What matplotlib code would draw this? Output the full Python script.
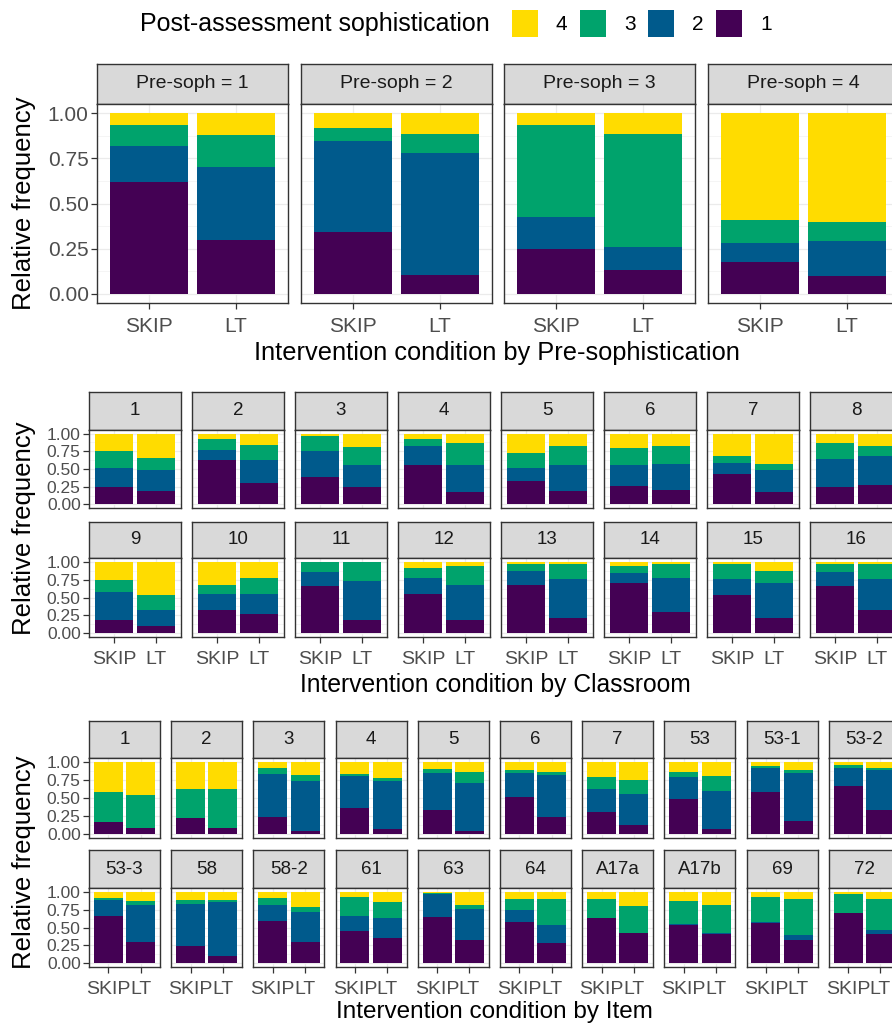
import numpy as np
import matplotlib
matplotlib.use("Agg")
import matplotlib.pyplot as plt

plt.rcParams['font.family'] = ['Liberation Sans', 'DejaVu Sans']

# Colours for post-assessment sophistication levels 1..4 (viridis-like, as in the picture)
level_colors = ['#440154', '#005a8c', '#00a36c', '#ffdc00']
level_names = ['1', '2', '3', '4']
conditions = ['SKIP', 'LT']

# Section 1: by pre-sophistication, proportions of levels 1..4
presoph_labels = ['Pre-soph = 1', 'Pre-soph = 2', 'Pre-soph = 3', 'Pre-soph = 4']
presoph_skip = [[0.62, 0.20, 0.115, 0.065],
                [0.34, 0.505, 0.07, 0.085],
                [0.25, 0.175, 0.51, 0.065],
                [0.175, 0.105, 0.13, 0.59]]
presoph_lt = [[0.30, 0.40, 0.177, 0.123],
              [0.107, 0.67, 0.109, 0.114],
              [0.13, 0.13, 0.626, 0.114],
              [0.10, 0.195, 0.101, 0.604]]

# Section 2: by classroom
class_labels = [str(i) for i in range(1, 17)]
class_skip = [[0.24, 0.27, 0.25, 0.24], [0.62, 0.15, 0.15, 0.08],
              [0.39, 0.36, 0.22, 0.03], [0.55, 0.27, 0.11, 0.07],
              [0.335, 0.175, 0.22, 0.27], [0.26, 0.29, 0.24, 0.21],
              [0.43, 0.16, 0.09, 0.32], [0.24, 0.40, 0.22, 0.14],
              [0.18, 0.39, 0.18, 0.25], [0.32, 0.23, 0.13, 0.32],
              [0.665, 0.185, 0.14, 0.01], [0.55, 0.22, 0.145, 0.085],
              [0.68, 0.19, 0.09, 0.04], [0.70, 0.14, 0.10, 0.06],
              [0.54, 0.22, 0.20, 0.04], [0.665, 0.185, 0.11, 0.04]]
class_lt = [[0.195, 0.285, 0.17, 0.35], [0.30, 0.32, 0.22, 0.16],
            [0.24, 0.31, 0.26, 0.19], [0.17, 0.38, 0.31, 0.14],
            [0.19, 0.36, 0.27, 0.18], [0.20, 0.37, 0.25, 0.18],
            [0.17, 0.32, 0.08, 0.43], [0.28, 0.40, 0.14, 0.18],
            [0.11, 0.21, 0.22, 0.46], [0.27, 0.28, 0.22, 0.23],
            [0.18, 0.55, 0.265, 0.005], [0.18, 0.50, 0.26, 0.06],
            [0.22, 0.54, 0.20, 0.04], [0.30, 0.47, 0.19, 0.04],
            [0.22, 0.48, 0.17, 0.13], [0.32, 0.44, 0.20, 0.04]]

# Section 3: by item
item_labels = ['1', '2', '3', '4', '5', '6', '7', '53', '53-1', '53-2',
               '53-3', '58', '58-2', '61', '63', '64', 'A17a', 'A17b', '69', '72']
item_skip = [[0.165, 0.0, 0.415, 0.42], [0.22, 0.0, 0.40, 0.38],
             [0.235, 0.595, 0.085, 0.085], [0.365, 0.435, 0.03, 0.17],
             [0.34, 0.505, 0.055, 0.10], [0.51, 0.335, 0.035, 0.12],
             [0.305, 0.32, 0.16, 0.215], [0.49, 0.295, 0.07, 0.145],
             [0.58, 0.33, 0.03, 0.06], [0.67, 0.245, 0.035, 0.05],
             [0.66, 0.22, 0.03, 0.09], [0.24, 0.59, 0.05, 0.12],
             [0.595, 0.225, 0.09, 0.09], [0.445, 0.22, 0.255, 0.08],
             [0.64, 0.33, 0.01, 0.02], [0.57, 0.18, 0.15, 0.10],
             [0.63, 0.0, 0.26, 0.11], [0.54, 0.01, 0.32, 0.13],
             [0.56, 0.01, 0.36, 0.07], [0.70, 0.0, 0.27, 0.03]]
item_lt = [[0.085, 0.0, 0.455, 0.46], [0.085, 0.0, 0.535, 0.38],
           [0.04, 0.70, 0.08, 0.18], [0.075, 0.665, 0.035, 0.225],
           [0.05, 0.66, 0.145, 0.145], [0.245, 0.575, 0.04, 0.14],
           [0.13, 0.43, 0.19, 0.25], [0.075, 0.515, 0.21, 0.20],
           [0.18, 0.66, 0.04, 0.12], [0.34, 0.54, 0.03, 0.09],
           [0.30, 0.52, 0.05, 0.13], [0.11, 0.745, 0.03, 0.115],
           [0.30, 0.42, 0.07, 0.21], [0.355, 0.275, 0.225, 0.145],
           [0.32, 0.435, 0.055, 0.19], [0.29, 0.25, 0.35, 0.11],
           [0.43, 0.0, 0.37, 0.20], [0.41, 0.02, 0.39, 0.18],
           [0.32, 0.07, 0.51, 0.10], [0.41, 0.05, 0.44, 0.10]]

W, H = 892, 1025
fig = plt.figure(figsize=(W / 100, H / 100), dpi=100)
fig.patch.set_facecolor('white')


def box(x0, y0, x1, y1):
    # pixel box (top-left origin) -> figure fraction
    return [x0 / W, 1 - y1 / H, (x1 - x0) / W, (y1 - y0) / H]


def draw_facet(x0, w, sy0, sy1, py1, label, skip, lt, show_y, show_x,
               strip_fs, ytick_fs, xtick_fs):
    # strip on top
    ax_s = fig.add_axes(box(x0, sy0, x0 + w, sy1))
    ax_s.set_facecolor('#D9D9D9')
    ax_s.set_xticks([])
    ax_s.set_yticks([])
    for sp in ax_s.spines.values():
        sp.set_color('#333333')
        sp.set_linewidth(1.0)
    ax_s.text(0.5, 0.5, label, ha='center', va='center', fontsize=strip_fs,
              color='#1A1A1A', transform=ax_s.transAxes)

    ax = fig.add_axes(box(x0, sy1, x0 + w, py1))
    ax.set_facecolor('white')
    bottoms = np.zeros(2)
    for k in range(4):
        vals = np.array([skip[k], lt[k]])
        ax.bar([1, 2], vals, bottom=bottoms, width=0.9, color=level_colors[k],
               linewidth=0, zorder=2)
        bottoms += vals
    ax.set_xlim(0.4, 2.6)
    ax.set_ylim(-0.05, 1.05)
    ax.set_yticks([0, 0.25, 0.5, 0.75, 1.0])
    ax.set_yticks([0.125, 0.375, 0.625, 0.875], minor=True)
    ax.set_xticks([1, 2])
    ax.grid(True, which='major', color='#EBEBEB', linewidth=0.9, zorder=0)
    ax.grid(True, which='minor', axis='y', color='#F2F2F2', linewidth=0.5, zorder=0)
    ax.set_axisbelow(True)
    for sp in ax.spines.values():
        sp.set_color('#333333')
        sp.set_linewidth(1.0)
    ax.tick_params(which='minor', length=0)
    ax.tick_params(axis='both', which='major', length=4, width=0.9, color='#333333',
                   labelcolor='#4D4D4D', pad=2)
    if show_y:
        ax.set_yticklabels(['0.00', '0.25', '0.50', '0.75', '1.00'], fontsize=ytick_fs)
    else:
        ax.tick_params(axis='y', length=0, labelleft=False)
    if show_x:
        ax.set_xticklabels(conditions, fontsize=xtick_fs)
        ax.tick_params(axis='x', pad=6)
    else:
        ax.tick_params(axis='x', length=0, labelbottom=False)
    return ax


# ---- legend at top
fig.text(140 / W, 1 - 24 / H, 'Post-assessment sophistication', ha='left', va='center',
         fontsize=18, color='black')
key_x = [512, 580, 648, 716]
for k, lev in enumerate([3, 2, 1, 0]):
    kax = fig.add_axes(box(key_x[k], 10, key_x[k] + 26, 37))
    kax.set_facecolor(level_colors[lev])
    kax.set_xticks([])
    kax.set_yticks([])
    for sp in kax.spines.values():
        sp.set_visible(False)
    fig.text((key_x[k] + 44) / W, 1 - 24 / H, level_names[lev], ha='left',
             va='center', fontsize=15, color='black')

# ---- section 1
top_x = [97, 301, 504, 708]
for i in range(4):
    draw_facet(top_x[i], 191, 64, 104, 303, presoph_labels[i],
               presoph_skip[i], presoph_lt[i], i == 0, True, 14, 15, 15)
fig.text(497 / W, 1 - 353 / H, 'Intervention condition by Pre-sophistication',
         ha='center', va='center', fontsize=18.3)
fig.text(24 / W, 1 - 203 / H, 'Relative frequency', ha='center', va='center',
         rotation=90, fontsize=18.5)

# ---- section 2
mid_x = [89 + 103 * j for j in range(8)]
mid_rows = [(392, 430, 508), (522, 558, 637)]
for i in range(16):
    r, c = divmod(i, 8)
    sy0, sy1, py1 = mid_rows[r]
    draw_facet(mid_x[c], 92, sy0, sy1, py1, class_labels[i],
               class_skip[i], class_lt[i], c == 0, r == 1, 13.5, 12.5, 14)
fig.text(495 / W, 1 - 685 / H, 'Intervention condition by Classroom',
         ha='center', va='center', fontsize=17.7)
fig.text(24 / W, 1 - 528 / H, 'Relative frequency', ha='center', va='center',
         rotation=90, fontsize=18.5)

# ---- section 3
bot_x = [89 + 82.2 * j for j in range(10)]
bot_rows = [(721, 758, 838), (850, 888, 967)]
for i in range(20):
    r, c = divmod(i, 10)
    sy0, sy1, py1 = bot_rows[r]
    draw_facet(bot_x[c], 71, sy0, sy1, py1, item_labels[i],
               item_skip[i], item_lt[i], c == 0, r == 1, 13.5, 12.5, 14)
fig.text(494 / W, 1 - 1012 / H, 'Intervention condition by Item',
         ha='center', va='center', fontsize=17.5)
fig.text(24 / W, 1 - 862 / H, 'Relative frequency', ha='center', va='center',
         rotation=90, fontsize=18.5)

fig.savefig('out.png', dpi=100, facecolor='white')
